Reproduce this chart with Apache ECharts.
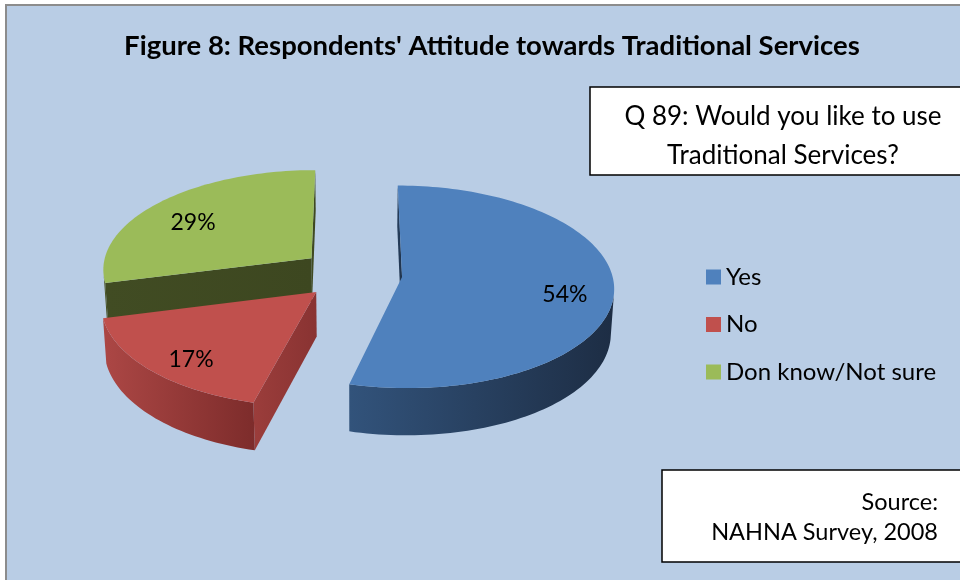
<!DOCTYPE html>
<html>
<head>
<meta charset="utf-8">
<script src="https://cdn.jsdelivr.net/npm/echarts@6/dist/echarts.min.js"></script>
<style>
  html, body { margin: 0; padding: 0; background: #ffffff; }
  #chart { width: 960px; height: 580px; }
</style>
</head>
<body>
<div id="chart"></div>
<script>
// Survey answers (percent of respondents)
const categories = ['Yes', 'No', 'Don know/Not sure'];
const shares = [54, 17, 29];

// Face colours per slice
const topColors = ['#4f81bd', '#c0504d', '#9bbb59'];
const wallColors = [['#32537b', '#1d2d44'], ['#ac4745', '#7d2c2b'], ['#56622f', '#3c4720']];
const cutColors = [['#27405f', '#1e3149'], ['#9b3d3b', '#893332'], ['#414c23', '#3d4720']];

const FONT = 'Lato, "Open Sans", sans-serif';

// 3D view of the pie: screen centre, pixels per radius, camera distance,
// sine of the elevation angle, slab thickness and per-slice explosion (in radii)
const VIEW = {
  cx: 354, cy: 274, scale: 210, dist: 9, tiltSin: 0.475, thick: 0.241,
  explode: [0.23, 0.25, 0.26],
  labelRadius: 0.77, labelDy: 8
};
const tiltCos = Math.sqrt(1 - VIEW.tiltSin * VIEW.tiltSin);

function project(X, Y, Z) {
  const depth = VIEW.dist + Z * tiltCos - Y * VIEW.tiltSin;
  const sy = Y * tiltCos + Z * VIEW.tiltSin;
  const k = VIEW.scale * VIEW.dist / depth;
  return [VIEW.cx + X * k, VIEW.cy - sy * k];
}
function depthOf(X, Y, Z) {
  return VIEW.dist + Z * tiltCos - Y * VIEW.tiltSin;
}

// Slice angles, clockwise from 12 o'clock
const total = shares.reduce((a, b) => a + b, 0);
const starts = [];
let acc = 0;
shares.forEach(v => {
  starts.push(acc / total * Math.PI * 2);
  acc += v;
});

// camera position in world space (origin = pie centre, top surface)
const camZ = -VIEW.dist * tiltCos;

function hGrad(c) {
  return { type: 'linear', x: 0, y: 0, x2: 1, y2: 0, colorStops: [{ offset: 0, color: c[0] }, { offset: 1, color: c[1] }] };
}

function makeRenderer(idx) {
  return function (params, api) {
    const value = api.value(0);
    const a0 = starts[idx];
    const a1 = a0 + value / total * Math.PI * 2;
    const mid = (a0 + a1) / 2;
    const e = VIEW.explode[idx];
    const ox = e * Math.sin(mid);
    const oz = e * Math.cos(mid);
    const T = VIEW.thick;
    const rim = (a, y) => project(ox + Math.sin(a), y, oz + Math.cos(a));
    const ctr = y => project(ox, y, oz);
    const children = [];
    const N = Math.max(12, Math.ceil((a1 - a0) / (Math.PI / 120)));
    const ang = k => a0 + (a1 - a0) * k / N;

    // outer curved wall: keep the camera-facing run of the rim
    let k1 = -1, k2 = -1;
    for (let k = 0; k <= N; k++) {
      const a = ang(k);
      const nx = Math.sin(a), nz = Math.cos(a);
      const dot = nx * (0 - (ox + nx)) + nz * (camZ - (oz + nz));
      if (dot > 0) { if (k1 < 0) k1 = k; k2 = k; }
    }
    if (k1 >= 0 && k2 > k1) {
      const pts = [];
      let dsum = 0;
      for (let k = k1; k <= k2; k++) pts.push(rim(ang(k), 0));
      for (let k = k2; k >= k1; k--) pts.push(rim(ang(k), -T));
      for (let k = k1; k <= k2; k++) dsum += depthOf(ox + Math.sin(ang(k)), -T / 2, oz + Math.cos(ang(k)));
      const d = dsum / (k2 - k1 + 1);
      children.push({
        type: 'polygon', z2: Math.round(200 - d * 10),
        shape: { points: pts },
        style: { fill: hGrad(wallColors[idx]), stroke: null }
      });
    }

    // flat cut faces at both edges of the slice
    const cut = (a, nx, nz) => {
      const dot = nx * (0 - ox) + nz * (camZ - oz);
      if (dot <= 0) return;
      const d = (depthOf(ox, 0, oz) + depthOf(ox + Math.sin(a), 0, oz + Math.cos(a))) / 2;
      children.push({
        type: 'polygon', z2: Math.round(200 - d * 10),
        shape: { points: [ctr(0), rim(a, 0), rim(a, -T), ctr(-T)] },
        style: { fill: hGrad(cutColors[idx]), stroke: null }
      });
    };
    cut(a0, -Math.cos(a0), Math.sin(a0));
    cut(a1, Math.cos(a1), -Math.sin(a1));

    // top face
    const topPts = [ctr(0)];
    for (let k = 0; k <= N; k++) topPts.push(rim(ang(k), 0));
    children.push({
      type: 'polygon', z2: 500,
      shape: { points: topPts },
      style: { fill: topColors[idx], stroke: null }
    });

    // value label on the top face
    const r = VIEW.labelRadius;
    const lp = project(ox + r * Math.sin(mid), 0, oz + r * Math.cos(mid));
    children.push({
      type: 'text', z2: 600,
      x: lp[0], y: lp[1] + VIEW.labelDy,
      style: { text: value + '%', fill: '#000', font: '23px ' + FONT, align: 'center', verticalAlign: 'middle' }
    });

    return { type: 'group', children: children };
  };
}

const series = categories.map((name, i) => ({
  type: 'custom',
  name: name,
  coordinateSystem: 'none',
  silent: true,
  data: [[shares[i]]],
  renderItem: makeRenderer(i)
}));

const chart = echarts.init(document.getElementById('chart'), null, { renderer: 'canvas' });
chart.setOption({
  animation: false,
  color: topColors,
  title: {
    text: "Figure 8: Respondents' Attitude towards Traditional Services",
    left: 487, top: 27, textAlign: 'center',
    textStyle: { fontFamily: FONT, fontSize: 27.5, fontWeight: 'bold', color: '#000' }
  },
  legend: {
    orient: 'vertical', left: 701, top: 258,
    icon: 'rect', itemWidth: 15, itemHeight: 15, itemGap: 19.5,
    selectedMode: false,
    data: categories,
    textStyle: { fontFamily: FONT, fontSize: 24, color: '#000', lineHeight: 28 }
  },
  graphic: [
    {
      type: 'rect', z: -10, silent: true,
      shape: { x: 6, y: 5, width: 970, height: 590 },
      style: { fill: '#b9cde5', stroke: '#8c8c8c', lineWidth: 2 }
    },
    {
      type: 'rect', silent: true,
      shape: { x: 590, y: 87, width: 390, height: 88 },
      style: { fill: '#ffffff', stroke: '#000000', lineWidth: 1.5 }
    },
    {
      type: 'text', silent: true, x: 783, y: 117,
      style: { text: 'Q 89: Would you like to use', fill: '#000', font: '26px ' + FONT, align: 'center', verticalAlign: 'middle' }
    },
    {
      type: 'text', silent: true, x: 783, y: 156,
      style: { text: 'Traditional Services?', fill: '#000', font: '26px ' + FONT, align: 'center', verticalAlign: 'middle' }
    },
    {
      type: 'rect', silent: true,
      shape: { x: 662, y: 470, width: 300, height: 92 },
      style: { fill: '#ffffff', stroke: '#000000', lineWidth: 1.5 }
    },
    {
      type: 'text', silent: true, x: 938, y: 502,
      style: { text: 'Source:', fill: '#000', font: '23.5px ' + FONT, align: 'right', verticalAlign: 'middle' }
    },
    {
      type: 'text', silent: true, x: 938, y: 532,
      style: { text: 'NAHNA Survey, 2008', fill: '#000', font: '23.5px ' + FONT, align: 'right', verticalAlign: 'middle' }
    }
  ],
  series: series
});
</script>
</body>
</html>
